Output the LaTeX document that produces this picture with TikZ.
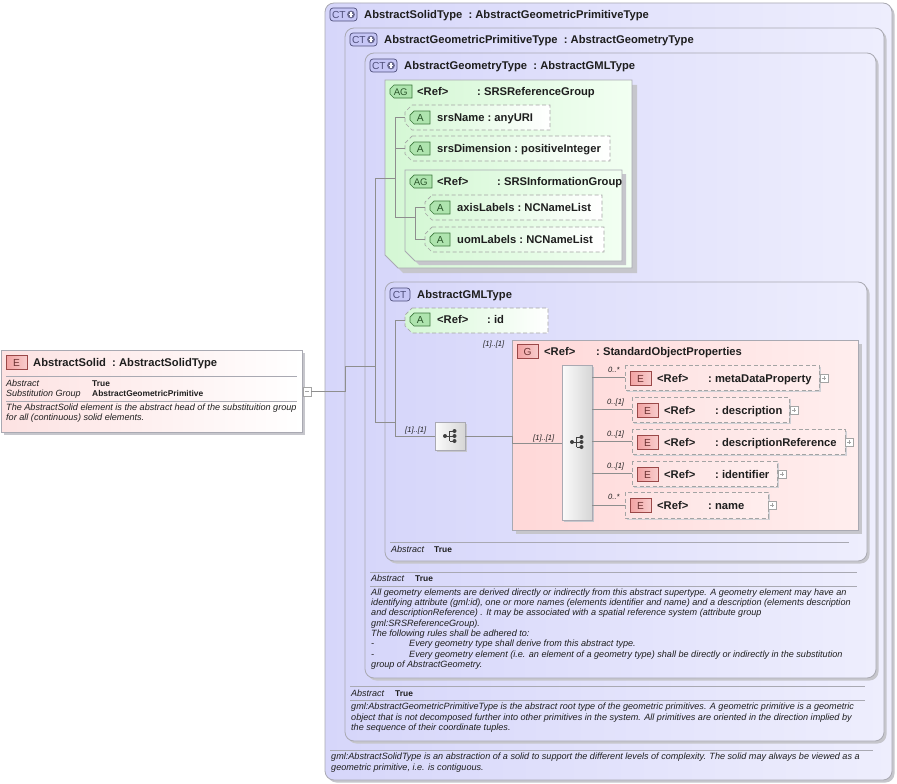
\documentclass[tikz,border=0pt]{standalone}
\usepackage{fontspec}
\setmainfont{Liberation Sans}
\definecolor{lavA}{HTML}{D6D6FA}
\definecolor{lavB}{HTML}{EEEEFD}
\definecolor{bordC}{HTML}{A9A9B2}
\definecolor{shadC}{HTML}{C6C6CC}
\definecolor{greenA}{HTML}{D4F7D4}
\definecolor{greenB}{HTML}{F2FFF2}
\definecolor{pinkA}{HTML}{FFD8D8}
\definecolor{pinkB}{HTML}{FFEEEE}
\definecolor{elemA}{HTML}{FDE2E2}
\definecolor{txtC}{HTML}{1E1E1E}
\definecolor{connC}{HTML}{8E8E8E}
\definecolor{iconCT}{HTML}{C6C6F6}
\definecolor{iconCTb}{HTML}{4E4E7A}
\definecolor{iconG}{HTML}{AEE4AE}
\definecolor{iconGb}{HTML}{3C783C}
\definecolor{iconE}{HTML}{F2A2A2}
\definecolor{iconEb}{HTML}{9A4848}
\definecolor{dashC}{HTML}{A4A4A4}
\definecolor{seqA}{HTML}{FBFBFB}
\definecolor{seqB}{HTML}{D6D6D6}
\tikzset{
  ctbox/.style={draw=bordC, line width=0.8pt, rounded corners=9pt, left color=lavA, right color=lavB},
  ctshadow/.style={fill=shadC, rounded corners=9pt},
  ttl/.style={anchor=base west, inner sep=0pt, text=txtC, font=\bfseries\fontsize{11.2}{13}\selectfont},
  ilbl/.style={anchor=base west, inner sep=0pt, text=txtC, font=\itshape\fontsize{9}{10}\selectfont},
  blbl/.style={anchor=base west, inner sep=0pt, text=txtC, font=\bfseries\fontsize{8.4}{10}\selectfont},
  para/.style={anchor=north west, inner sep=0pt, text=txtC, align=left, font=\itshape\fontsize{9.1}{10.3}\selectfont},
  card/.style={anchor=base west, inner sep=0pt, text=txtC, font=\itshape\fontsize{7.6}{9}\selectfont},
  conn/.style={draw=connC, line width=0.7pt},
  sepline/.style={draw=bordC, line width=0.7pt},
  dashbox/.style={draw=dashC, line width=0.7pt, dash pattern=on 4pt off 2.5pt},
  icontxt/.style={anchor=base west, inner sep=0pt, font=\fontsize{10.2}{11}\selectfont},
  cticonplus/.pic={
    \draw[draw=iconCTb, fill=iconCT, rounded corners=3pt, line width=0.7pt] (0,0) rectangle (27,13);
    \node[icontxt, text=iconCTb] at (1.8,10.8) {CT};
    \fill[iconCTb!85] (21,6.5) circle (3.9);
    \draw[white, line width=1.3pt] (18.6,6.5) -- (23.4,6.5) (21,4.1) -- (21,8.9);
  },
  cticon/.pic={
    \draw[draw=iconCTb, fill=iconCT, rounded corners=3pt, line width=0.7pt] (0,0) rectangle (20,13);
    \node[icontxt, text=iconCTb] at (2.6,10.8) {CT};
  },
  agicon/.pic={
    \draw[draw=iconGb, fill=iconG, line width=0.7pt] (4,0) -- (22,0) -- (22,13) -- (4,13) -- (0,9) -- (0,4) -- cycle;
    \node[icontxt, text=iconGb!70!black, font=\fontsize{9.6}{11}\selectfont] at (3.6,10.7) {AG};
  },
  aicon/.pic={
    \draw[draw=iconGb, fill=iconG, line width=0.7pt] (4,0) -- (20,0) -- (20,13) -- (4,13) -- (0,9) -- (0,4) -- cycle;
    \node[icontxt, text=iconGb!70!black] at (6.6,10.8) {A};
  },
  eicon/.pic={
    \draw[draw=iconEb, left color=iconE, right color=iconE!55!white, line width=0.7pt] (0,0) rectangle (21,14);
    \node[icontxt, text=iconEb!70!black] at (6.9,11.2) {E};
  },
  gicon/.pic={
    \draw[draw=iconEb, left color=iconE, right color=iconE!55!white, line width=0.7pt] (0,0) rectangle (21,14);
    \node[icontxt, text=iconEb!70!black] at (6.4,11.2) {G};
  },
  plusbox/.pic={
    \draw[draw=dashC, fill=white, line width=0.6pt] (0,0) rectangle (8,8);
    \draw[dashC, line width=0.6pt] (2,4) -- (6,4) (4,2) -- (4,6);
  },
  minusbox/.pic={
    \draw[draw=dashC, fill=white, line width=0.6pt] (0,0) rectangle (8,9);
    \draw[dashC, line width=0.6pt] (2,4.5) -- (6,4.5);
  },
  seqicon/.pic={
    \draw[black!75, line width=0.8pt] (-6,0) -- (-1.5,0) (-1.5,-5) -- (-1.5,5) (-1.5,-5) -- (3.5,-5) (-1.5,0) -- (3.5,0) (-1.5,5) -- (3.5,5);
    \fill[black!75] (-6,0) circle (2) (3.5,-5) circle (2) (3.5,0) circle (2) (3.5,5) circle (2);
  },
}
\newcommand\attrshape[5]{%
  \draw[dashbox, left color=greenA, right color=white] (#2+7,#3) -- (#4,#3) -- (#4,#5) -- (#2+7,#5) -- (#2,#5-7) -- (#2,#3+7) -- cycle;
  \coordinate (#1) at (#2,{(#3+#5)/2});
}
\newcommand\elemshape[5]{%
  \fill[shadC!80] (#2+2,#3+2) rectangle (#4+2,#5+2);
  \draw[dashbox, left color=elemA, right color=pinkB] (#2,#3) rectangle (#4,#5);
  \coordinate (#1) at (#2,{(#3+#5)/2});
}
\begin{document}
\begin{tikzpicture}[x=1pt,y=-1pt]
\useasboundingbox (0,0) rectangle (897,784);
\fill[white] (0,0) rectangle (897,784);

% ---------- left element ----------
\fill[shadC] (4,353) rectangle (305,435);
\draw[draw=bordC, line width=0.8pt, left color=elemA, right color=white] (1,350) rectangle (302,432);
\pic at (6,355) {eicon};
\node[ttl] (elname) at (33,366.5) {AbstractSolid\ \ :\ AbstractSolidType};
\draw[sepline] (6,376) -- (297,376);
\node[ilbl] (ab0) at (6,386) {Abstract};
\node[blbl] (tr0) at (92,386) {True};
\node[ilbl] (sg0) at (6,396.5) {Substitution Group};
\node[blbl] (sgv) at (92,396.5) {AbstractGeometricPrimitive};
\draw[sepline] (6,401) -- (297,401);
\node[para] (eldoc) at (6,403.5) {The AbstractSolid element is the abstract head of the substituition group\\for all (continuous) solid elements.};
\pic at (303,387) {minusbox};
\coordinate (elout) at (311,391.5);

% ---------- outer CT box ----------
\fill[ctshadow] (327.5,5.5) rectangle (894.5,782.5);
\draw[ctbox] (325,3) rectangle (892,780);
\pic at (330,8) {cticonplus};
\node[ttl] (t1) at (364,18.5) {AbstractSolidType\ \ :\ AbstractGeometricPrimitiveType};

% ---------- box 2 ----------
\fill[ctshadow] (347.5,30.5) rectangle (886.5,743.5);
\draw[ctbox] (345,28) rectangle (884,741);
\pic at (350,33) {cticonplus};
\node[ttl] (t2) at (384,43.5) {AbstractGeometricPrimitiveType\ \ :\ AbstractGeometryType};

% ---------- box 3 ----------
\fill[ctshadow] (367.5,55.5) rectangle (878.5,680.5);
\draw[ctbox] (365,53) rectangle (876,678);
\pic at (370,59) {cticonplus};
\node[ttl] (t3) at (404,69.5) {AbstractGeometryType\ \ :\ AbstractGMLType};

% ---------- AG SRSReferenceGroup ----------
\fill[shadC] (390,85) -- (637,85) -- (637,273) -- (403,273) -- (390,260) -- cycle;
\draw[draw=bordC, line width=0.8pt, left color=greenA, right color=greenB] (385,80) -- (632,80) -- (632,268) -- (398,268) -- (385,255) -- cycle;
\pic at (390,85) {agicon};
\node[ttl] (ag1r) at (417,95.5) {<Ref>};
\node[ttl] (ag1n) at (477,95.5) {:\ SRSReferenceGroup};

\attrshape{srsName}{405}{105}{550}{130}
\pic at (410,111) {aicon};
\node[ttl] (srsNameT) at (437,121.5) {srsName\ :\ anyURI};

\attrshape{srsDim}{405}{136}{610}{161}
\pic at (410,142) {aicon};
\node[ttl] (srsDimT) at (437,152.5) {srsDimension\ :\ positiveInteger};

% nested AG
\fill[shadC] (409,174) -- (626,174) -- (626,265) -- (419,265) -- (409,255) -- cycle;
\draw[draw=bordC, line width=0.8pt, left color=greenA, right color=greenB] (405,170) -- (622,170) -- (622,261) -- (415,261) -- (405,251) -- cycle;
\pic at (410,175) {agicon};
\node[ttl] (ag2r) at (437,185.5) {<Ref>};
\node[ttl] (ag2n) at (497,185.5) {:\ SRSInformationGroup};

\attrshape{axisL}{425}{195}{602}{220}
\pic at (430,201) {aicon};
\node[ttl] (axisT) at (457,211.5) {axisLabels\ :\ NCNameList};

\attrshape{uomL}{425}{227}{604}{252}
\pic at (430,233) {aicon};
\node[ttl] (uomT) at (457,243.5) {uomLabels\ :\ NCNameList};

% ---------- AbstractGMLType ----------
\fill[ctshadow] (387.5,284.5) rectangle (869.5,563.5);
\draw[ctbox] (385,282) rectangle (867,561);
\pic at (390,288) {cticon};
\node[ttl] (t4) at (417,298.5) {AbstractGMLType};

\attrshape{idA}{405}{308}{548}{333}
\pic at (410,313) {aicon};
\node[ttl] (idr) at (437,323.5) {<Ref>};
\node[ttl] (idn) at (487,323.5) {:\ id};

\node[card] (cG) at (483,346) {[1]..[1]};

% G box
\fill[shadC] (516,344) rectangle (862,534);
\draw[draw=bordC, line width=0.8pt, left color=pinkA, right color=pinkB] (512,340) rectangle (858,530);
\pic at (517,344) {gicon};
\node[ttl] (gr) at (544,355.5) {<Ref>};
\node[ttl] (gn) at (596,355.5) {:\ StandardObjectProperties};

% small sequence
\fill[shadC] (437,424) rectangle (467,452);
\draw[draw=bordC, line width=0.8pt, left color=seqA, right color=seqB] (435,422) rectangle (465,450);
\coordinate (seq1w) at (435,436);
\coordinate (seq1e) at (465,436);
\pic at (451,436) {seqicon};

% tall sequence
\fill[shadC] (564,367) rectangle (594,522);
\draw[draw=bordC, line width=0.8pt, left color=seqA, right color=seqB] (562,365) rectangle (592,520);
\coordinate (seq2w) at (562,443);
\pic at (578,442) {seqicon};

% elements
\elemshape{mdp}{625}{365}{819}{390}
\pic at (630,371) {eicon};
\node[ttl] (mdpr) at (657,382) {<Ref>};
\node[ttl] (mdpn) at (708,382) {:\ metaDataProperty};
\pic at (820,374) {plusbox};
\node[card] (c1) at (608,372.5) {0..*};

\elemshape{desc}{632}{397}{789}{422}
\pic at (637,403) {eicon};
\node[ttl] (descr) at (664,414) {<Ref>};
\node[ttl] (descn) at (715,414) {:\ description};
\pic at (790,406) {plusbox};
\node[card] (c2) at (607,404.5) {0..[1]};

\elemshape{descRef}{632}{429}{845}{454}
\pic at (637,435) {eicon};
\node[ttl] (drr) at (664,446) {<Ref>};
\node[ttl] (drn) at (715,446) {:\ descriptionReference};
\pic at (845,438) {plusbox};
\node[card] (c3) at (607,436.5) {0..[1]};

\elemshape{ident}{632}{461}{777}{486}
\pic at (637,467) {eicon};
\node[ttl] (idfr) at (664,478) {<Ref>};
\node[ttl] (idfn) at (715,478) {:\ identifier};
\pic at (778,470) {plusbox};
\node[card] (c4) at (607,468.5) {0..[1]};

\elemshape{nameE}{625}{492}{768}{518}
\pic at (630,498) {eicon};
\node[ttl] (nmr) at (657,509) {<Ref>};
\node[ttl] (nmn) at (708,509) {:\ name};
\pic at (768,501) {plusbox};
\node[card] (c5) at (608,499.5) {0..*};

% GML annotation
\draw[sepline] (390,542) -- (849,542);
\node[ilbl] (ab4) at (391,552) {Abstract};
\node[blbl] (tr4) at (434,552) {True};

% Box3 annotation
\draw[sepline] (370,572) -- (857,572);
\node[ilbl] (ab3) at (371,581.5) {Abstract};
\node[blbl] (tr3) at (415,581.5) {True};
\draw[sepline] (370,586) -- (857,586);
\node[para] (doc3) at (371,588.5) {All geometry elements are derived directly or indirectly from this abstract supertype. A geometry element may have an\\
identifying attribute (gml:id), one or more names (elements identifier and name) and a description (elements description\\
and descriptionReference) . It may be associated with a spatial reference system (attribute group\\
gml:SRSReferenceGroup).\\
The following rules shall be adhered to:\\
\makebox[38pt][l]{-}Every geometry type shall derive from this abstract type.\\
\makebox[38pt][l]{-}Every geometry element (i.e. an element of a geometry type) shall be directly or indirectly in the substitution\\
group of AbstractGeometry.};

% Box2 annotation
\draw[sepline] (350,686) -- (865,686);
\node[ilbl] (ab2) at (351,696) {Abstract};
\node[blbl] (tr2) at (395,696) {True};
\draw[sepline] (350,700) -- (865,700);
\node[para] (doc2) at (351,703) {gml:AbstractGeometricPrimitiveType is the abstract root type of the geometric primitives. A geometric primitive is a geometric\\
object that is not decomposed further into other primitives in the system. All primitives are oriented in the direction implied by\\
the sequence of their coordinate tuples.};

% Outer annotation
\draw[sepline] (330,750) -- (873,750);
\node[para] (doc1) at (331,753) {gml:AbstractSolidType is an abstraction of a solid to support the different levels of complexity. The solid may always be viewed as a\\
geometric primitive, i.e. is contiguous.};

% ---------- connectors ----------
\coordinate (j1) at (345,391.5);
\coordinate (j2) at (345,366);
\coordinate (busTop) at (375,178);
\coordinate (busBot) at (375,422);
\coordinate (ag1bus) at (395,178);
\coordinate (ag2bus) at (415,217);
\coordinate (gmlbus) at (395,422);
\coordinate (gW) at (512,436);
\draw[conn] (elout) -- (j1) -- (j2) -- (375,366);
\draw[conn] (busTop) -- (busBot);
\draw[conn] (busTop) -- (ag1bus);
\draw[conn] (395,117.5) -- (395,217);
\draw[conn] (395,117.5) -- (srsName);
\draw[conn] (395,148.5) -- (srsDim);
\draw[conn] (395,217) -- (ag2bus);
\draw[conn] (415,207.5) -- (415,239.5);
\draw[conn] (415,207.5) -- (axisL);
\draw[conn] (415,239.5) -- (uomL);
\draw[conn] (busBot) -- (gmlbus);
\draw[conn] (395,320.5) -- (395,436);
\draw[conn] (395,320.5) -- (idA);
\draw[conn] (395,436) -- (seq1w);
\node[card] (c0) at (405,432) {[1]..[1]};
\draw[conn] (seq1e) -- (gW) -- (512,443) -- (seq2w);
\node[card] (c6) at (533,440) {[1]..[1]};
\draw[conn] (592,377.5) -- (mdp);
\draw[conn] (592,409.5) -- (desc);
\draw[conn] (592,441.5) -- (descRef);
\draw[conn] (592,473.5) -- (ident);
\draw[conn] (592,505) -- (nameE);
\end{tikzpicture}
\end{document}
